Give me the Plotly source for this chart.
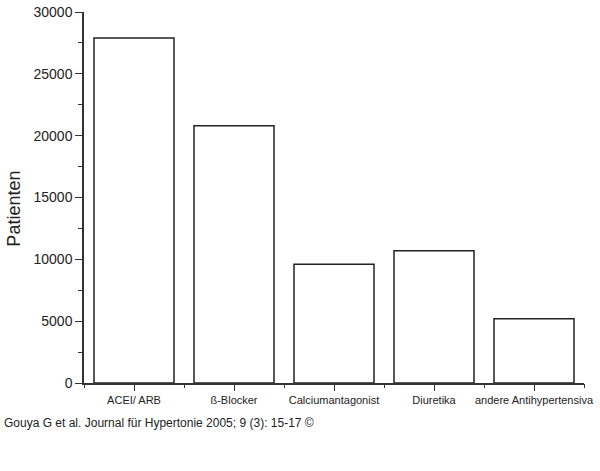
import plotly.graph_objects as go

categories = ["ACEI/ ARB", "ß-Blocker", "Calciumantagonist", "Diuretika", "andere Antihypertensiva"]
patienten = [27900, 20800, 9600, 10700, 5200]
y_ticks = [0, 5000, 10000, 15000, 20000, 25000, 30000]
y_title = "Patienten"
caption = "Gouya G et al. Journal für Hypertonie 2005; 9 (3): 15-17 ©"

axis_col = "#333333"

fig = go.Figure()

fig.add_trace(go.Bar(
    x=categories,
    y=patienten,
    marker=dict(color="white", line=dict(color="#222222", width=1.5)),
    width=0.8,
    hoverinfo="skip",
))

# second (hidden) trace only for the boundary ticks between the categories
fig.add_trace(go.Bar(
    x=categories,
    y=patienten,
    xaxis="x2",
    marker=dict(color="rgba(0,0,0,0)", line=dict(width=0)),
    width=0.8,
    hoverinfo="skip",
    showlegend=False,
))

fig.update_layout(
    width=600,
    height=471,
    margin=dict(l=84, r=16, t=12, b=88),
    paper_bgcolor="white",
    plot_bgcolor="white",
    showlegend=False,
    font=dict(family="Liberation Sans, Arial, sans-serif", color="#222222"),
    xaxis=dict(
        type="category",
        categoryarray=categories,
        range=[-0.5, 4.5],
        showline=True,
        linecolor=axis_col,
        linewidth=1.5,
        ticks="outside",
        ticklen=6,
        tickcolor=axis_col,
        tickwidth=1.2,
        tickfont=dict(size=11),
        showgrid=False,
        zeroline=False,
        automargin=False,
    ),
    xaxis2=dict(
        type="category",
        categoryarray=categories,
        range=[-0.5, 4.5],
        overlaying="x",
        side="bottom",
        tickson="boundaries",
        ticks="outside",
        ticklen=4,
        tickcolor=axis_col,
        tickwidth=1.2,
        showticklabels=False,
        showline=False,
        showgrid=False,
        zeroline=False,
    ),
    yaxis=dict(
        range=[0, 30000],
        tickvals=y_ticks,
        tickformat="d",
        showline=True,
        linecolor=axis_col,
        linewidth=1.5,
        ticks="outside",
        ticklen=7,
        tickcolor=axis_col,
        tickwidth=1.2,
        tickfont=dict(size=14),
        minor=dict(dtick=2500, ticks="outside", ticklen=4, tickcolor=axis_col, tickwidth=1.2),
        showgrid=False,
        zeroline=False,
        automargin=False,
    ),
    annotations=[
        dict(
            text=y_title,
            xref="paper", yref="paper",
            x=-70 / 500, y=0.47,
            xanchor="center", yanchor="middle",
            textangle=-90,
            showarrow=False,
            font=dict(size=18, color="#222222"),
        ),
        dict(
            text=caption,
            xref="paper", yref="paper",
            x=-82 / 500, y=-0.108,
            xanchor="left", yanchor="middle",
            showarrow=False,
            font=dict(family="Liberation Sans Narrow, Arial Narrow, Liberation Sans, sans-serif", size=12, color="#222222"),
        ),
    ],
)

fig.write_html("out.html", config={"displayModeBar": False},
               post_script="document.body.style.margin='0';")
